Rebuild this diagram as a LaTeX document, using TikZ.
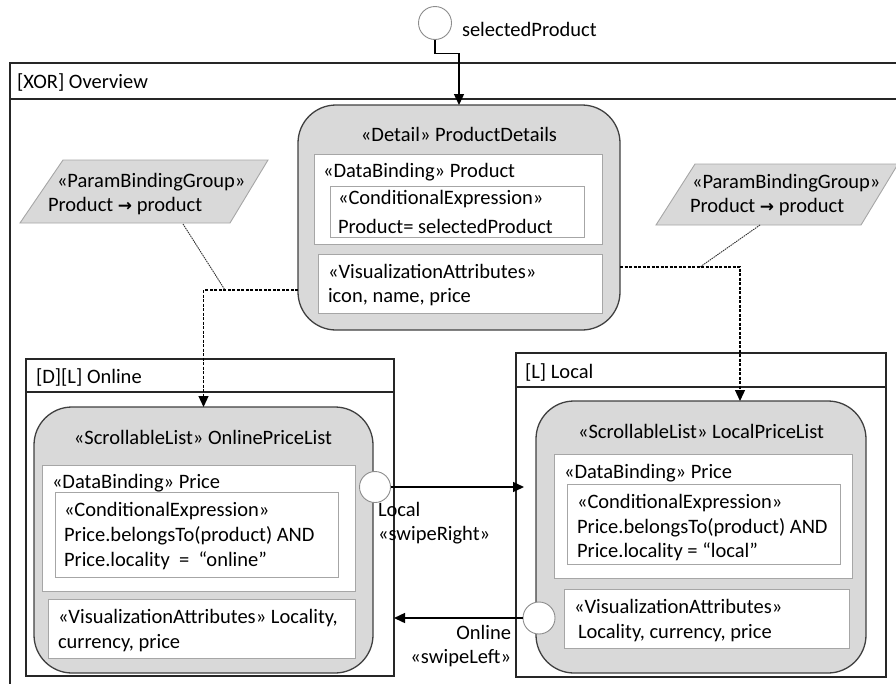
\documentclass[tikz,border=0pt]{standalone}
\usepackage{fontspec}
\setmainfont{Carlito}
\newfontfamily\symfont{DejaVu Sans}
\usetikzlibrary{arrows.meta,calc}
\definecolor{gfill}{HTML}{D9D9D9}
\definecolor{gline}{HTML}{404040}
\definecolor{lgline}{HTML}{A6A6A6}
\definecolor{cline}{HTML}{8C8C8C}
\definecolor{fline}{HTML}{262626}
\newcommand{\rarr}{{\symfont\bfseries\fontsize{17}{20}\selectfont →}}
\begin{document}
\begin{tikzpicture}[x=1pt,y=-1pt,
  font=\fontsize{20.5}{24.5}\selectfont,
  every node/.style={inner sep=0pt, outer sep=0pt},
  frame/.style={draw=fline, line width=1.3pt, anchor=north west},
  hdr/.style={draw=fline, line width=1.3pt},
  vstate/.style={draw=gline, fill=gfill, line width=1.3pt, rounded corners=38pt, anchor=north west},
  wbox/.style={draw=lgline, fill=white, line width=1pt, anchor=north west},
  port/.style={circle, draw=cline, fill=white, line width=0.9pt},
  txt/.style={anchor=base west},
  ctxt/.style={anchor=base},
  conn/.style={draw=black, line width=1.4pt, -{Triangle[length=11pt,width=10pt]}},
  dconn/.style={draw=black, line width=1.2pt, dash pattern=on 3pt off 1.5pt, -{Triangle[length=11pt,width=10pt]}},
  notelink/.style={draw=black!80, line width=0.9pt, dash pattern=on 1.5pt off 0.8pt},
  pgram/.style={draw=lgline, fill=gfill, line width=0.9pt}]
\useasboundingbox (0,0) rectangle (896,683);
\clip (0,0) rectangle (896,683);

% Overview frame
\node[frame, minimum width=900pt, minimum height=650pt] (ovf) at (10,63) {};
\draw[hdr] (10,99) -- ++(900,0);
\node[txt] (ovt) at (17,88) {[XOR] Overview};

% start port
\node[port, minimum size=33pt] (sp) at (435,23) {};
\node[txt] (spl) at (462,36) {selectedProduct};

% ProductDetails
\node[vstate, minimum width=322pt, minimum height=225pt] (pd) at (298,105) {};
\node[ctxt] (pdt) at (459,141) {«Detail» ProductDetails};
\node[wbox, minimum width=288pt, minimum height=90pt] (pddb) at (314,154) {};
\node[txt] (pddbt) at (323,177) {«DataBinding» Product};
\node[wbox, minimum width=254pt, minimum height=51pt] (pdce) at (330,186) {};
\node[txt] (pdce1) at (338,204) {«ConditionalExpression»};
\node[txt] (pdce2) at (338,233) {Product= selectedProduct};
\node[wbox, minimum width=284pt, minimum height=59pt] (pdva) at (318,254) {};
\node[txt] (pdva1) at (328,278) {«VisualizationAttributes»};
\node[txt] (pdva2) at (328,302) {icon, name, price};

% ParamBindingGroups
\draw[pgram] (63,160) -- (268,160) -- (230,223) -- (20,223) -- cycle;
\node[txt] (pbl1) at (57,187) {«ParamBindingGroup»};
\node[txt] (pbl2) at (48,211) {Product \rarr{} product};
\draw[pgram] (695,164) -- (898,164) -- (861,225) -- (656,225) -- cycle;
\node[txt] (pbr1) at (692,188) {«ParamBindingGroup»};
\node[txt] (pbr2) at (690,212) {Product \rarr{} product};

% Online state
\node[frame, minimum width=368pt, minimum height=317pt] (onf) at (26,359) {};
\draw[hdr] (26,392) -- (394,392);
\node[txt] (onft) at (36,383) {[D][L] Online};
\node[vstate, minimum width=339pt, minimum height=266pt] (opl) at (34,407) {};
\node[ctxt] (oplt) at (203,444) {«ScrollableList» OnlinePriceList};
\node[wbox, minimum width=313pt, minimum height=126pt] (opldb) at (42,465) {};
\node[txt] (opldbt) at (52,488) {«DataBinding» Price};
\node[wbox, minimum width=283pt, minimum height=85pt] (oplce) at (55,492) {};
\node[txt] (oplce1) at (64,516) {«ConditionalExpression»};
\node[txt] (oplce2) at (64,541) {Price.belongsTo(product) AND};
\node[txt] (oplce3) at (64,566) {Price.locality\ \ =\ \ “online”};
\node[wbox, minimum width=307pt, minimum height=59pt] (oplva) at (48,599) {};
\node[txt] (oplva1) at (58,623) {«VisualizationAttributes» Locality,};
\node[txt] (oplva2) at (58,648) {currency, price};
\node[port, minimum size=31pt] (oc) at (375,487) {};

% Local state
\node[frame, minimum width=370pt, minimum height=324pt] (lcf) at (516,353) {};
\draw[hdr] (516,387) -- (886,387);
\node[txt] (lcft) at (525,378) {[L] Local};
\node[vstate, minimum width=330pt, minimum height=272pt] (lpl) at (536,401) {};
\node[ctxt] (lplt) at (701,438) {«ScrollableList» LocalPriceList};
\node[wbox, minimum width=298pt, minimum height=124pt] (lpldb) at (554,454) {};
\node[txt] (lpldbt) at (564,478) {«DataBinding» Price};
\node[wbox, minimum width=273pt, minimum height=80pt] (lplce) at (567,484) {};
\node[txt] (lplce1) at (577,508) {«ConditionalExpression»};
\node[txt] (lplce2) at (577,533) {Price.belongsTo(product) AND};
\node[txt] (lplce3) at (577,557) {Price.locality = “local”};
\node[wbox, minimum width=285pt, minimum height=59pt] (lplva) at (564,589) {};
\node[txt] (lplva1) at (574,613) {«VisualizationAttributes»};
\node[txt] (lplva2) at (578,638) {Locality, currency, price};
\node[port, minimum size=32pt] (lc) at (539,618) {};

% note links
\coordinate (nl1) at (183,224);
\coordinate (nl2) at (225,290);
\draw[notelink] (nl1) -- (nl2);
\coordinate (nr1) at (760,225);
\coordinate (nr2) at (700,267);
\draw[notelink] (nr1) -- (nr2);

% connectors
\draw[conn] (sp.south) -- ++(0,14) -| (pd.north);
\draw[dconn] ([yshift=-72.5pt]pd.west) -| (opl.north);
\draw[dconn] ([yshift=-49.5pt]pd.east) -| ([xshift=39pt]lpl.north);
\coordinate (lcin) at ([xshift=8pt]lcf.west |- oc.east);
\draw[conn] (oc.east) -- (lcin);
\draw[conn] (lc.west) -- (lc.west -| onf.east);

% transition labels
\node[txt] (swr1) at (378,516) {Local};
\node[txt] (swr2) at (378,540) {«swipeRight»};
\node[anchor=base east] (swl1) at (511,639) {Online};
\node[anchor=base east] (swl2) at (511,663) {«swipeLeft»};
\end{tikzpicture}
\end{document}
